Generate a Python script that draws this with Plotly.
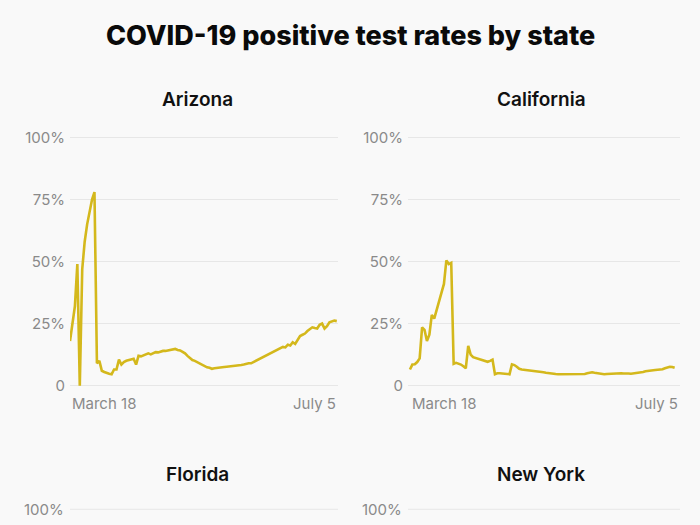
import plotly.graph_objects as go
import pandas as pd

# ---------------- data ----------------
start_date = "2020-03-18"
end_date = "2020-07-05"
dates = pd.date_range(start_date, end_date, freq="D")  # 110 days

states = ["Arizona", "California", "Florida", "New York"]

arizona = [
    18, 26, 32, 49, 0, 47, 58, 65, 70, 75,
    78, 9, 10, 6, 5.5, 5, 4.8, 4.6, 6.5, 6.5,
    10.5, 8.5, 9.5, 10, 10.2, 10.5, 10.8, 8.5, 12, 11.8,
    12.3, 12.5, 13, 12.6, 13.2, 13.5, 13.4, 13.8, 14, 14,
    14.2, 14.3, 14.5, 14.8, 14.4, 14.2, 13.6, 13, 12, 11,
    10.3, 10, 9.5, 9, 8.5, 7.8, 7.4, 7.2, 6.8, 7,
    7.2, 7.4, 7.3, 7.5, 7.6, 7.7, 7.6, 7.9, 8, 8.2,
    8.3, 8.5, 8.8, 9, 9, 9.5, 10, 10.5, 11, 11.5,
    12, 12.3, 12.8, 13.5, 14, 14.4, 15, 15.6, 15.4, 16.5,
    16.2, 17.5, 16.8, 18.5, 20, 20.5, 21, 22, 22.8, 23.5,
    23.2, 23, 24.5, 25, 23, 24, 25.5, 26, 26.2, 26,
]

california = [
    6.5, 8.5, 8.6, 9.5, 11, 23.5, 22.5, 18, 20.5, 28.5,
    27, 30.5, 35, 38, 41, 50.5, 49, 49.5, 8.8, 9.2,
    9, 8.5, 7.8, 7, 16, 12.5, 11.5, 11.2, 10.8, 10.3,
    10, 10, 9.6, 10, 10.5, 4.6, 5, 5, 4.9, 5.1,
    5, 4.6, 8.6, 8.3, 7.6, 6.8, 6.5, 6.4, 6.2, 6.3,
    6, 6, 5.8, 5.7, 5.5, 5.4, 5.2, 5, 4.9, 4.8,
    4.7, 4.6, 4.6, 4.5, 4.5, 4.5, 4.4, 4.5, 4.5, 4.6,
    4.5, 4.6, 4.7, 5, 5.3, 5.4, 5.2, 5, 4.9, 4.8,
    4.6, 4.7, 4.8, 4.9, 5, 4.9, 5, 5, 4.9, 5,
    4.9, 4.8, 4.9, 5, 5.1, 5.3, 5.5, 5.8, 6, 6.1,
    6.2, 6.3, 6.4, 6.4, 6.6, 7, 7.4, 7.6, 7.5, 7.2,
]

series = {"Arizona": arizona, "California": california}

y_tickvals = [0, 25, 50, 75, 100]
y_ticktext = ["0", "25%", "50%", "75%", "100%"]
top_tick = 100
top_tick_text = "100%"
x_label_first = "March 18"
x_label_last = "July 5"
title_text = "COVID-19 positive test rates by state"

# ---------------- layout constants ----------------
W, H = 700, 800   # the lower row runs past the 525-px window, as in the reference
BG = "#f9f9f9"
LINE = "#d4b81c"
GRID = "#e7e7e7"
TICK = "#8a8a8a"
FONT = "Inter, Roboto, sans-serif"


def py(px):
    return 1 - px / H


def pxx(px):
    return px / W


col_dom = [(70, 338), (408, 680)]
row_dom = [(129, 390), (505, 766)]
title_y = [96, 475]
title_x = [197, 541]
xlabel_y = 403

fig = go.Figure()

for i, st in enumerate(states):
    r, c = divmod(i, 2)
    n = i + 1
    xa = "x" if n == 1 else f"x{n}"
    ya = "y" if n == 1 else f"y{n}"
    if st in series:
        fig.add_trace(go.Scatter(
            x=dates, y=series[st], mode="lines",
            line=dict(color=LINE, width=2.6),
            xaxis=xa, yaxis=ya, showlegend=False, hoverinfo="x+y",
        ))
    x_pad_l = 0 if c == 0 else 0.8
    x_pad_r = 0.5 if c == 0 else 2.2
    x_range = [dates[0] - pd.Timedelta(days=x_pad_l), dates[-1] + pd.Timedelta(days=x_pad_r)]
    fig.layout[f"xaxis{'' if n == 1 else n}"] = dict(
        domain=[pxx(col_dom[c][0]), pxx(col_dom[c][1])],
        anchor=ya, range=x_range, showgrid=False, zeroline=False,
        showticklabels=False, ticks="", showline=False, fixedrange=True,
    )
    fig.layout[f"yaxis{'' if n == 1 else n}"] = dict(
        domain=[py(row_dom[r][1]), py(row_dom[r][0])],
        anchor=xa, range=[-2, 102],
        tickvals=y_tickvals, ticktext=y_ticktext,
        showgrid=(r == 0), showticklabels=(r == 0),
        gridcolor=GRID, gridwidth=1, zeroline=False,
        tickfont=dict(family=FONT, size=15, color=TICK), ticks="",
        ticklabelstandoff=4, showline=False, fixedrange=True,
    )
    if r == 1:
        # lower row: only its top gridline and label fall inside the window
        fig.add_shape(
            type="line", xref=f"{xa} domain", x0=0, x1=1,
            yref=ya, y0=top_tick, y1=top_tick,
            line=dict(color=GRID, width=1), layer="below",
        )
        fig.add_annotation(
            text=top_tick_text, xref=f"{xa} domain", x=0, xanchor="right", xshift=-4,
            yref=ya, y=top_tick, yanchor="middle", showarrow=False,
            font=dict(family=FONT, size=15, color=TICK),
        )
    # subplot title
    fig.add_annotation(
        text=st, x=pxx(title_x[c]), y=py(title_y[r]), xref="paper", yref="paper",
        xanchor="center", yanchor="middle", showarrow=False,
        font=dict(family=FONT, size=19, color="#111111", weight=600),
    )
    if r == 0:
        fig.add_annotation(
            text=x_label_first, x=dates[0], xref=xa, y=py(xlabel_y), yref="paper",
            xanchor="left", yanchor="middle", showarrow=False,
            font=dict(family=FONT, size=15, color=TICK),
        )
        fig.add_annotation(
            text=x_label_last, x=1, xref=f"{xa} domain", y=py(xlabel_y), yref="paper",
            xanchor="right", yanchor="middle", showarrow=False,
            font=dict(family=FONT, size=15, color=TICK),
        )

fig.add_annotation(
    text=title_text, x=0.5, y=py(31), xref="paper", yref="paper",
    xanchor="center", yanchor="middle", showarrow=False,
    font=dict(family=FONT, size=27, color="#0a0a0a", weight=800),
)

fig.update_layout(
    width=W, height=H,
    margin=dict(l=0, r=0, t=0, b=0),
    paper_bgcolor=BG, plot_bgcolor=BG,
    showlegend=False,
)

fig.write_html(
    "out.html",
    config={"displayModeBar": False},
    post_script="document.body.style.overflow='hidden';document.body.style.margin='0';",
)
